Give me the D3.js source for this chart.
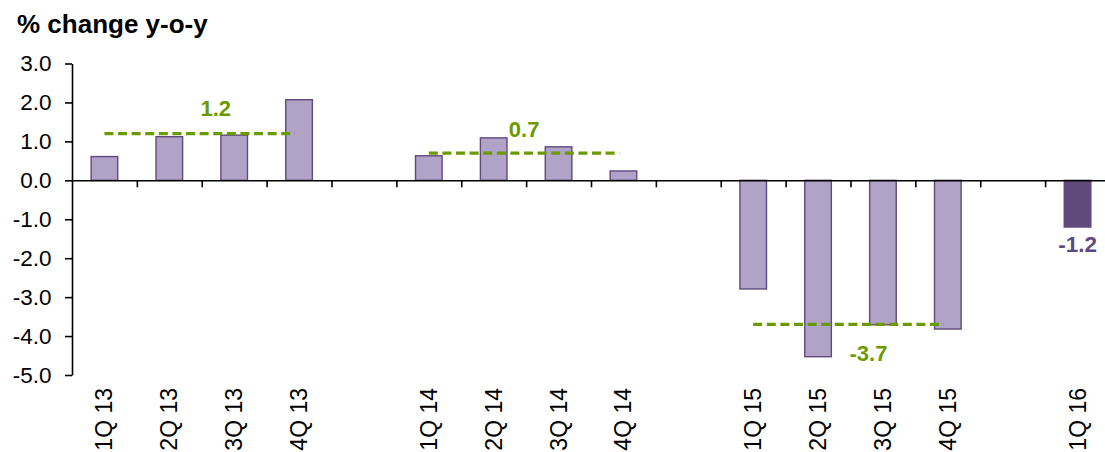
<!DOCTYPE html>
<html>
<head>
<meta charset="utf-8">
<script src="https://cdn.jsdelivr.net/npm/d3@7"></script>
<style>
  html, body { margin: 0; padding: 0; background: #fff; }
  svg { display: block; font-family: "Liberation Sans", Arial, Helvetica, sans-serif; }
</style>
</head>
<body>
<svg id="chart" width="1105" height="452"></svg>
<script>
// Quarterly slots; null marks the empty slot between years
const quarters = ["1Q 13", "2Q 13", "3Q 13", "4Q 13", null,
                  "1Q 14", "2Q 14", "3Q 14", "4Q 14", null,
                  "1Q 15", "2Q 15", "3Q 15", "4Q 15", null,
                  "1Q 16"];
// % change y-o-y per slot
const changes = [0.61, 1.12, 1.16, 2.07, null,
                 0.63, 1.09, 0.86, 0.24, null,
                 -2.79, -4.53, -3.71, -3.82, null,
                 -1.2];
// Yearly averages and the quarters they cover
const avgYears = ["2013", "2014", "2015"];
const avgValues = [1.2, 0.7, -3.7];
const avgFrom = ["1Q 13", "1Q 14", "1Q 15"];
const avgTo = ["4Q 13", "4Q 14", "4Q 15"];
const yTicks = [3, 2, 1, 0, -1, -2, -3, -4, -5];
const latest = "1Q 16";

// One decimal, plain hyphen for negatives
const fmt = d3.formatLocale({ decimal: ".", thousands: ",", grouping: [3], currency: ["", ""], minus: "-" }).format(".1f");

const svg = d3.select("#chart");
const plotLeft = 72, plotRight = 1110, plotTop = 63.5, plotBottom = 375;

const slotIds = d3.range(quarters.length);
const x = d3.scaleBand().domain(slotIds).range([plotLeft, plotRight]).paddingInner(0.59).paddingOuter(0.295);
const xEdge = d3.scaleLinear().domain([0, quarters.length]).range([plotLeft, plotRight]);
const y = d3.scaleLinear().domain([-5, 3]).range([plotBottom, plotTop]);
const idx = q => quarters.indexOf(q);

const lightFill = "#b1a2c8", darkFill = "#5f4a7c", barStroke = "#5f4a7c";
const green = "#6b9a00";

// Bars
const rows = slotIds.filter(i => quarters[i] !== null).map(i => ({ i, q: quarters[i], v: changes[i] }));
svg.append("g").selectAll("rect").data(rows).join("rect")
  .attr("x", d => x(d.i))
  .attr("width", x.bandwidth())
  .attr("y", d => y(Math.max(0, d.v)))
  .attr("height", d => Math.abs(y(d.v) - y(0)))
  .attr("fill", d => d.q === latest ? darkFill : lightFill)
  .attr("stroke", barStroke)
  .attr("stroke-width", 1.4);

// Y axis
const yAxis = svg.append("g")
  .attr("transform", `translate(${plotLeft},0)`)
  .call(d3.axisLeft(y).tickValues(yTicks).tickFormat(fmt).tickSize(7).tickSizeOuter(0).tickPadding(13.5));
yAxis.select(".domain").attr("stroke", "#000").attr("stroke-width", 1.6);
yAxis.selectAll(".tick line").attr("stroke", "#000").attr("stroke-width", 1.6);
yAxis.selectAll(".tick text").attr("font-size", 22.5).attr("fill", "#000")
  .attr("font-family", "\"Liberation Sans\", Arial, sans-serif");

// X axis at zero, ticks on slot boundaries
const xAxis = svg.append("g")
  .attr("transform", `translate(0,${y(0)})`)
  .call(d3.axisBottom(xEdge).tickValues(d3.range(1, quarters.length + 1)).tickFormat("").tickSize(7).tickSizeOuter(0));
xAxis.select(".domain").attr("stroke", "#000").attr("stroke-width", 1.6);
xAxis.selectAll(".tick line").attr("stroke", "#000").attr("stroke-width", 1.6);

// Rotated quarter labels
svg.append("g").selectAll("text").data(rows).join("text")
  .attr("transform", d => `translate(${x(d.i) + x.bandwidth() / 2 + 8},388) rotate(-90)`)
  .attr("text-anchor", "end")
  .attr("font-size", 23)
  .attr("fill", "#000")
  .text(d => d.q);

// Yearly average dashed lines with labels
const labelOffset = [{ dx: 16, dy: -18 }, { dx: 0, dy: -16 }, { dx: 20, dy: 37 }];
avgYears.forEach((yr, k) => {
  const x1 = x(idx(avgFrom[k])) + x.bandwidth() / 2;
  const x2 = x(idx(avgTo[k])) + x.bandwidth() / 2 - 4;
  const yy = y(avgValues[k]);
  svg.append("line")
    .attr("x1", x1).attr("x2", x2).attr("y1", yy).attr("y2", yy)
    .attr("stroke", green).attr("stroke-width", 3.2)
    .attr("stroke-dasharray", "9,4.6");
  svg.append("text")
    .attr("x", (x1 + x2) / 2 + labelOffset[k].dx)
    .attr("y", yy + labelOffset[k].dy)
    .attr("text-anchor", "middle")
    .attr("font-size", 22).attr("font-weight", "bold")
    .attr("fill", green)
    .text(fmt(avgValues[k]));
});

// Latest quarter value label
const li = idx(latest);
svg.append("text")
  .attr("x", x(li) + x.bandwidth() / 2)
  .attr("y", y(changes[li]) + 25)
  .attr("text-anchor", "middle")
  .attr("font-size", 22.5).attr("font-weight", "bold")
  .attr("fill", darkFill)
  .text(fmt(changes[li]));

// Title
svg.append("text")
  .attr("x", 17).attr("y", 33)
  .attr("font-size", 26).attr("font-weight", "bold")
  .attr("fill", "#000")
  .text("% change y-o-y");
</script>
</body>
</html>
